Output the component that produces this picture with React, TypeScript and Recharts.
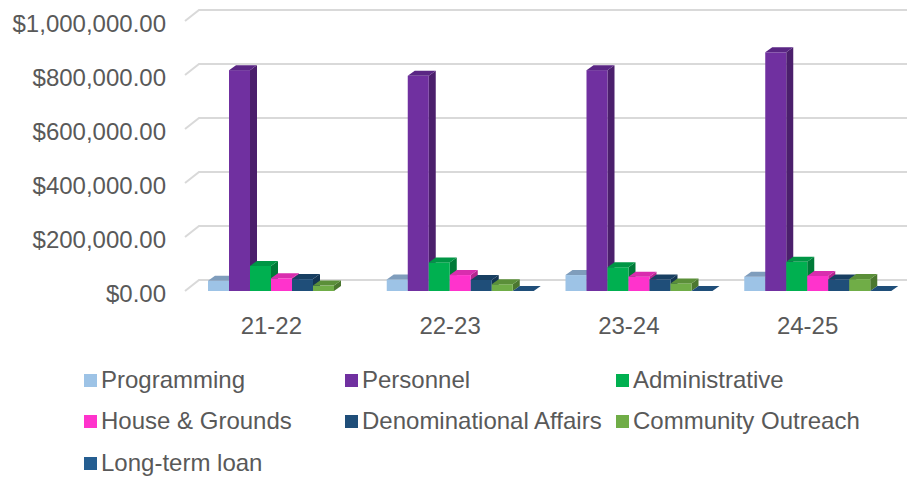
import React from "react";
import { BarChart, Bar, XAxis, YAxis, CartesianGrid, Legend } from "recharts";

const categories = ["21-22", "22-23", "23-24", "24-25"];
const programming = [38000, 43000, 59000, 53000];
const personnel = [818000, 797000, 818000, 884000];
const administrative = [93000, 106000, 88000, 108000];
const houseGrounds = [47000, 59000, 53000, 56000];
const denominational = [44000, 41000, 43000, 43000];
const communityOutreach = [20000, 25000, 28000, 44000];
const longTermLoan: (number | null)[] = [null, 0, 0, 0];
const yTicks = [0, 200000, 400000, 600000, 800000, 1000000];

const data = categories.map((c, i) => ({
  cat: c,
  programming: programming[i],
  personnel: personnel[i],
  administrative: administrative[i],
  house: houseGrounds[i],
  denom: denominational[i],
  community: communityOutreach[i],
  loan: longTermLoan[i],
}));

const series = [
  { key: "programming", name: "Programming", front: "#9DC3E6", top: "#7F9DBC", side: "#7894B2" },
  { key: "personnel", name: "Personnel", front: "#7030A0", top: "#5A2684", side: "#4B1F6C" },
  { key: "administrative", name: "Administrative", front: "#00B050", top: "#009645", side: "#007A38" },
  { key: "house", name: "House & Grounds", front: "#FF33CC", top: "#D92DAE", side: "#B5258F" },
  { key: "denom", name: "Denominational Affairs", front: "#1F4E79", top: "#183F62", side: "#143552" },
  { key: "community", name: "Community Outreach", front: "#70AD47", top: "#5B8F39", side: "#4B772F" },
  { key: "loan", name: "Long-term loan", front: "#255E91", top: "#1F4E79", side: "#1A4266" },
];

const DX = 7;
const DY = 5;
const FONT = "Liberation Sans, Arial, sans-serif";

const make3D = (s: any) => (props: any) => {
  const { x, y, width, height, payload } = props;
  if (!payload || payload[s.key] == null) return <g />;
  const w = width;
  const h = Math.max(0, height);
  const top = `M${x},${y} L${x + w},${y} L${x + w + DX},${y - DY} L${x + DX},${y - DY} Z`;
  const side = `M${x + w},${y} L${x + w + DX},${y - DY} L${x + w + DX},${y + h - DY} L${x + w},${y + h} Z`;
  return (
    <g>
      <path d={side} fill={s.side} />
      {h > 0 && <rect x={x} y={y} width={w} height={h} fill={s.front} />}
      <path d={top} fill={s.top} />
    </g>
  );
};

const fmt = (v: number) =>
  "$" + v.toLocaleString("en-US", { minimumFractionDigits: 2, maximumFractionDigits: 2 });

const YTick = (props: any) => {
  const { y, payload } = props;
  return (
    <text x={166} y={y + 2} textAnchor="end" dominantBaseline="central" fill="#595959" fontSize={24} fontFamily={FONT}>
      {fmt(payload.value)}
    </text>
  );
};

const XTick = (props: any) => {
  const { x, payload } = props;
  return (
    <text x={x - 10} y={325} textAnchor="middle" dominantBaseline="central" fill="#595959" fontSize={24} fontFamily={FONT}>
      {payload.value}
    </text>
  );
};

const gridLine = (props: any) => {
  const { x1, x2, y1, key } = props;
  const by = y1 - 11;
  return (
    <path
      key={key}
      d={`M${x1 - 7},${y1} L${x1 + 7},${by} L${x2 + 20},${by}`}
      stroke="#D9D9D9"
      strokeWidth={2}
      fill="none"
    />
  );
};

const LegendContent = () => {
  const colX = [84, 345, 616];
  const rowY = [380, 421, 463];
  return (
    <div style={{ position: "relative", width: 907, height: 120 }}>
      {series.map((s, i) => {
        const col = i % 3;
        const row = Math.floor(i / 3);
        return (
          <div
            key={s.key}
            style={{
              position: "absolute",
              left: colX[col],
              top: rowY[row] - 362 - 14,
              height: 28,
              display: "flex",
              alignItems: "center",
              whiteSpace: "nowrap",
              fontFamily: FONT,
              fontSize: 24,
              color: "#595959",
            }}
          >
            <span style={{ display: "inline-block", width: 13, height: 13, background: s.front, marginRight: 4 }} />
            {s.name}
          </div>
        );
      })}
    </div>
  );
};

export default function App() {
  return (
    <div style={{ position: "absolute", left: 0, top: 0, width: 907, height: 479, background: "#fff" }}>
      <BarChart
        width={907}
        height={479}
        data={data}
        margin={{ top: 21, right: 0, left: 0, bottom: 0 }}
        barCategoryGap={16}
        barGap={0}
      >
        <CartesianGrid vertical={false} horizontal={gridLine as any} />
        <XAxis dataKey="cat" axisLine={false} tickLine={false} height={68} tick={<XTick />} interval={0} />
        <YAxis
          width={192}
          domain={[0, 1000000]}
          ticks={yTicks}
          axisLine={false}
          tickLine={false}
          tick={<YTick />}
          interval={0}
        />
        <Legend
          verticalAlign="bottom"
          content={<LegendContent />}
          wrapperStyle={{ position: "absolute", left: 0, top: 362, width: 907, height: 120 }}
        />
        {series.map((s) => (
          <Bar key={s.key} dataKey={s.key} name={s.name} fill={s.front} isAnimationActive={false} shape={make3D(s)} />
        ))}
      </BarChart>
    </div>
  );
}
